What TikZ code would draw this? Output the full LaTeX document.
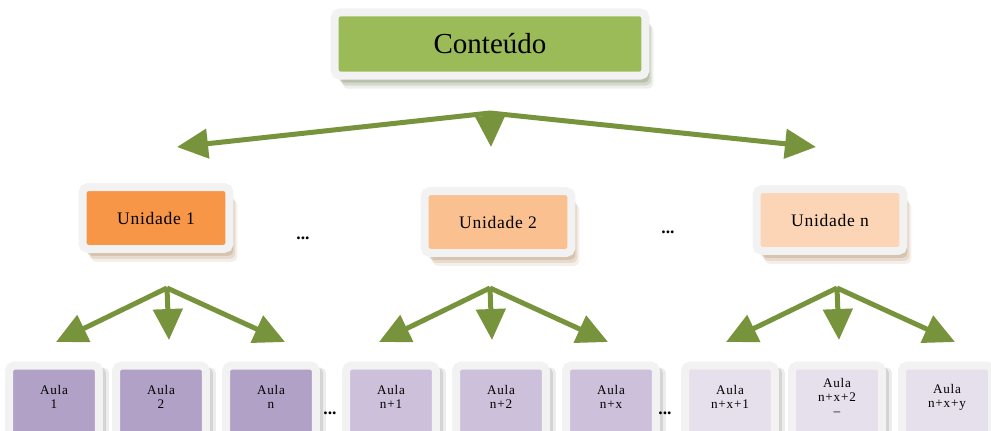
\documentclass[tikz,border=0pt]{standalone}
\usepackage{fontspec}
\setmainfont{Liberation Serif}
\usetikzlibrary{shapes,arrows,shadows}
\usetikzlibrary{positioning,calc}
\usetikzlibrary{arrows.meta}

\definecolor{framegray}{HTML}{F2F2F2}
\definecolor{arrowgreen}{HTML}{77933C}
\definecolor{topgreen}{HTML}{9BBB59}
\definecolor{unidA}{HTML}{F79646}
\definecolor{unidB}{HTML}{FAC090}
\definecolor{unidC}{HTML}{FBD5B5}
\definecolor{aulaA}{HTML}{B2A1C7}
\definecolor{aulaB}{HTML}{CCC0DA}
\definecolor{aulaC}{HTML}{E5E0EC}

\tikzset{
	box/.style={rectangle, draw=framegray, line width=0.16cm, rounded corners=0.11cm, inner sep=0pt, outer sep=0pt},
	softshadow/.style={
		drop shadow={shadow xshift=0.16cm, shadow yshift=-0.26cm, opacity=0.1, fill=#1},
		drop shadow={shadow xshift=0.12cm, shadow yshift=-0.2cm, opacity=0.15, fill=#1},
		drop shadow={shadow xshift=0.08cm, shadow yshift=-0.14cm, opacity=0.2, fill=#1}},
	topbox/.style={box, fill=topgreen, minimum width=6.22cm, minimum height=1.27cm, font=\fontsize{16.5}{18}\selectfont, softshadow=black!50!topgreen},
	unitbox/.style={box, minimum width=2.94cm, minimum height=1.24cm, font=\fontsize{10}{12}\selectfont\addfontfeatures{LetterSpace=4}, softshadow=brown!80!black},
	aulabox/.style={box, minimum width=1.8cm, minimum height=2cm,
		drop shadow={shadow xshift=0.2cm, shadow yshift=-0.04cm, opacity=0.12, fill=black!60},
		drop shadow={shadow xshift=0.14cm, shadow yshift=-0.04cm, opacity=0.18, fill=black!60}},
	aulatext/.style={yshift=0.37cm, inner sep=0pt, align=center, font=\fontsize{7.5}{8}\selectfont\addfontfeatures{LetterSpace=6}},
	branch/.style={draw=arrowgreen, line width=0.1cm, -{Triangle[length=0.62cm, width=0.58cm]}},
	dots/.style={inner sep=0pt, font=\fontsize{10}{12}\selectfont\bfseries}
}

\begin{document}
\begin{tikzpicture}[x=0.02cm, y=-0.02cm]
				\useasboundingbox (0,0) rectangle (991,430);
				\clip (0,0) rectangle (991,430);
				\node[topbox] (conteudo) at (490,44) {Conteúdo};
				\node[unitbox, fill=unidA] (unidade1) at (156,218) {Unidade 1};
				\node[unitbox, fill=unidB] (unidade2) at (498,222) {Unidade 2};
				\node[unitbox, fill=unidC] (unidaden) at (830,220) {Unidade n};
				\node[dots] (dotsU1) at (303,238) {...};
				\node[dots] (dotsU2) at (668,232) {...};
				\node[aulabox, fill=aulaA, label={[aulatext]center:{Aula\\1}}] (aula1) at (54,415.5) {};
				\node[aulabox, fill=aulaA, label={[aulatext]center:{Aula\\2}}] (aula2) at (161,415.5) {};
				\node[aulabox, fill=aulaA, label={[aulatext]center:{Aula\\n}}] (aula3) at (271,415.5) {};
				\node[aulabox, fill=aulaB, label={[aulatext]center:{Aula\\n+1}}] (aula4) at (391,415.5) {};
				\node[aulabox, fill=aulaB, label={[aulatext]center:{Aula\\n+2}}] (aula5) at (501,415.5) {};
				\node[aulabox, fill=aulaB, label={[aulatext]center:{Aula\\n+x}}] (aula6) at (611,415.5) {};
				\node[aulabox, fill=aulaC, label={[aulatext]center:{Aula\\n+x+1}}] (aula7) at (730,415.5) {};
				\node[aulabox, fill=aulaC, label={[aulatext]center:{Aula\\n+x+2\\–}}] (aula8) at (837,415.5) {};
				\node[aulabox, fill=aulaC, label={[aulatext]center:{Aula\\n+x+y}}] (aula9) at (947,415.5) {};
				\node[dots] (dotsA1) at (330,413) {...};
				\node[dots] (dotsA2) at (665,413) {...};
				\coordinate (topfork) at (490,113);
				\coordinate (toptip1) at (177,147);
				\coordinate (toptip2) at (491,147);
				\coordinate (toptip3) at (816,147);
				\draw[branch] (topfork) -- (toptip1);
				\draw[branch] (topfork) -- (toptip2);
				\draw[branch] (topfork) -- (toptip3);
				\foreach \g/\x in {1/167, 2/490, 3/837} {
					\coordinate (fork\g) at (\x,288);
					\coordinate (left\g) at (\x-111,342);
					\coordinate (mid\g) at (\x+2,340);
					\coordinate (right\g) at (\x+118,342);
					\draw[branch] (fork\g) -- (left\g);
					\draw[branch] (fork\g) -- (mid\g);
					\draw[branch] (fork\g) -- (right\g);
				}
			\end{tikzpicture}
\end{document}
